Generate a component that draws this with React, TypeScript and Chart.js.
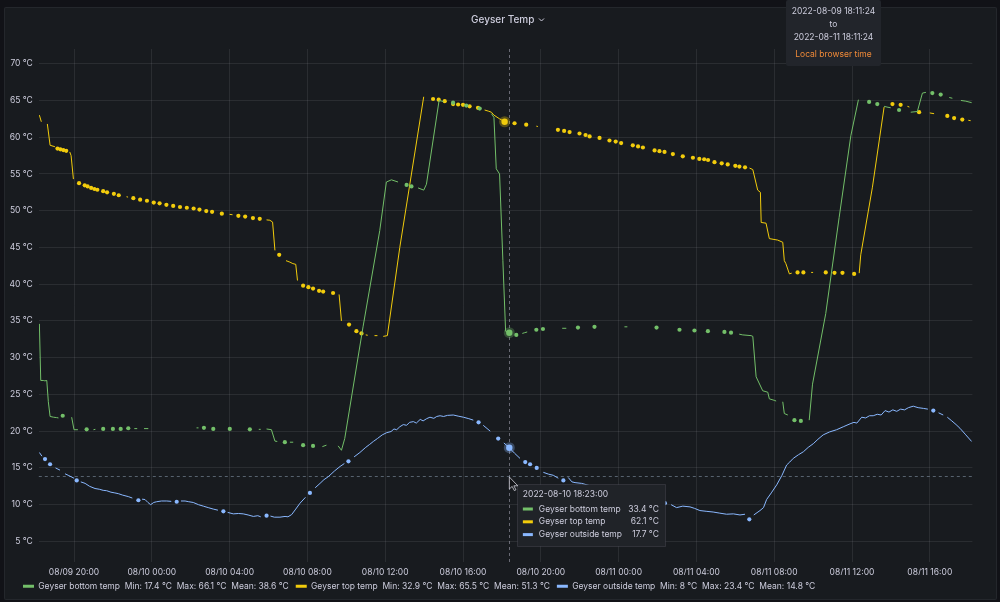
import React, { useEffect, useRef } from "react";
import { Chart, registerables } from "chart.js";

Chart.register(...registerables);

const N = null;

// time axis: hours since 2022-08-09 00:00 (range 18:11:24 -> 2022-08-11 18:11:24)
const rangeStartHour = 18.19;
const rangeEndHour = 66.19;
const xTickHours = [20, 24, 28, 32, 36, 40, 44, 48, 52, 56, 60, 64];
const yTickValues = [5, 10, 15, 20, 25, 30, 35, 40, 45, 50, 55, 60, 65, 70];
const yMin = 2.2;
const yMax = 72;

const seriesNames = ["Geyser bottom temp", "Geyser top temp", "Geyser outside temp"];
const seriesColors = ["#73BF69", "#F2CC0C", "#8AB8FF"];
const statMin = ["17.4", "32.9", "8"];
const statMax = ["66.1", "65.5", "23.4"];
const statMean = ["38.6", "51.3", "14.8"];

const hoverHour = 42.383; // 2022-08-10 18:23:00
const hoverTitle = "2022-08-10 18:23:00";
const hoverValues = ["33.4 °C", "62.1 °C", "17.7 °C"];
const cursorValue = 13.9;

type P = [number, number | null];

const bottomTemp: P[] = [
  [18.22, 34.6], [18.29, 26.9], [18.42, 26.9], [18.5, 26.85], [18.6, 26.9], [18.68, 24.0], [18.77, 22.0],
  [18.95, 21.9], [19.1, 21.85], [19.2, 21.8], [19.3, N], [19.42, 22.1], [19.6, N],
  [19.88, 21.9], [20.0, 20.2], [20.2, 20.2], [20.35, N], [20.65, 20.25], [20.8, N], [21.0, 20.2], [21.1, 20.25],
  [21.25, N], [21.5, 20.3], [21.6, N], [22.0, 20.3], [22.1, N], [22.4, 20.3], [22.5, N], [22.79, 20.4], [22.9, N],
  [23.1, 20.35], [23.25, 20.35], [23.4, N], [23.6, 20.35], [23.82, 20.35], [24.0, N],
  [26.3, 20.45], [26.4, 20.45], [26.5, N], [26.68, 20.45], [26.8, N], [27.16, 20.3], [27.3, N], [28.01, 20.3],
  [28.1, N], [29.04, 20.25], [29.15, N], [29.5, 20.25], [29.6, 20.25], [29.75, N], [29.9, 20.3], [30.15, 20.2],
  [30.33, 18.65], [30.45, 18.6], [30.6, N], [30.84, 18.5], [30.95, N], [31.1, 18.5], [31.27, 18.5], [31.4, N],
  [31.78, 18.1], [31.9, N], [32.29, 18.0], [32.4, N], [32.77, 17.9], [32.98, 18.1], [33.1, N], [33.58, 18.0],
  [33.75, 17.4], [33.92, 19.0], [34.86, 34.2], [35.72, 47.3], [36.06, 53.9], [36.32, 54.2], [36.66, 53.9],
  [36.8, N], [37.1, 53.5], [37.2, N], [37.35, 53.3], [37.5, N], [37.69, 53.1], [37.98, 52.8], [38.12, 53.6],
  [38.77, 65.0], [39.0, 64.85], [39.15, N], [39.49, 64.7], [39.6, N], [40.17, 64.3], [40.3, N], [40.86, 63.9],
  [41.0, N], [41.46, 63.2], [41.59, 62.7], [41.71, 55.7], [41.88, 55.0], [42.05, 43.2], [42.19, 33.6],
  [42.38, 33.4], [42.55, N], [42.74, 33.1], [42.85, N], [43.05, 33.3], [43.17, 33.4], [43.3, 33.5], [43.45, N],
  [43.77, 33.8], [43.9, N], [44.11, 33.9], [44.25, N], [45.1, 34.0], [45.31, 34.0], [45.45, N], [45.91, 34.1],
  [46.05, N], [46.76, 34.2], [46.9, N], [48.3, 34.2], [48.45, 34.2], [48.6, N], [49.95, 34.1], [50.1, N],
  [51.13, 33.8], [51.25, N], [51.9, 33.7], [52.0, N], [52.59, 33.6], [52.7, N], [53.44, 33.5], [53.55, N],
  [53.78, 33.4], [53.9, N], [54.2, 33.2], [54.38, 33.1], [54.81, 33.0], [54.9, 32.9], [55.07, 27.4],
  [55.41, 25.5], [55.67, 25.3], [55.75, 24.4], [56.0, 24.2], [56.1, 24.1], [56.25, N], [56.44, 24.0],
  [56.52, 22.4], [56.7, 22.2], [56.85, N], [57.04, 21.5], [57.2, N], [57.37, 21.4], [57.5, N], [57.8, 21.5],
  [57.97, 26.4], [58.65, 36.0], [59.34, 49.1], [59.94, 60.2], [60.33, 65.1], [60.5, N], [60.88, 64.8],
  [61.0, N], [61.3, 64.5], [61.4, N], [61.65, 64.2], [61.8, 64.1], [61.99, 64.0], [62.15, N], [62.42, 63.7],
  [62.55, N], [63.02, 63.4], [63.36, 63.5], [63.62, 66.0], [63.8, 66.1], [63.95, N], [64.13, 66.0],
  [64.25, N], [64.56, 65.8], [64.7, N], [65.0, 65.4], [65.16, 65.3], [65.3, N], [65.6, 65.0], [65.85, 64.9],
  [66.15, 64.7],
];

const topTemp: P[] = [
  [18.22, 63.0], [18.32, 62.1], [18.45, N], [18.63, 61.8], [18.77, 58.9], [19.02, 58.7], [19.08, N],
  [19.15, 58.45], [19.23, N], [19.3, 58.35], [19.38, N], [19.45, 58.25], [19.53, N], [19.6, 58.15], [19.68, N],
  [19.78, 58.0], [19.85, 57.5], [19.97, 54.3], [20.1, N], [20.26, 53.75], [20.4, N], [20.55, 53.45], [20.62, N],
  [20.7, 53.3], [20.78, N], [20.88, 53.1], [20.95, N], [21.05, 52.95], [21.12, N], [21.2, 52.85], [21.35, N],
  [21.5, 52.65], [21.6, N], [21.7, 52.5], [21.9, N], [22.05, 52.3], [22.15, N], [22.3, 52.1], [22.5, N],
  [22.7, 51.9], [22.78, 51.85], [22.9, N], [23.05, 51.7], [23.2, N], [23.4, 51.5], [23.6, N], [23.75, 51.35],
  [23.9, N], [24.1, 51.1], [24.25, N], [24.4, 51.0], [24.55, N], [24.75, 50.8], [24.9, N], [25.1, 50.65],
  [25.25, N], [25.45, 50.5], [25.65, N], [25.8, 50.4], [25.95, N], [26.15, 50.3], [26.3, N], [26.45, 50.15],
  [26.6, N], [26.8, 49.95], [26.95, N], [27.1, 49.85], [27.25, N], [27.6, 49.6], [27.8, N], [28.0, 49.5],
  [28.15, 49.45], [28.3, N], [28.45, 49.3], [28.6, N], [28.8, 49.2], [28.95, N], [29.2, 49.0], [29.35, N],
  [29.55, 48.9], [29.7, N], [29.9, 48.75], [30.07, 48.7], [30.21, 48.45], [30.33, 44.6], [30.45, N],
  [30.55, 44.0], [30.7, N], [30.9, 43.2], [31.0, 43.1], [31.1, 43.0], [31.25, 42.8], [31.4, 42.7],
  [31.49, 40.5], [31.6, N], [31.78, 39.8], [31.9, N], [32.05, 39.6], [32.15, N], [32.29, 39.4], [32.45, N],
  [32.6, 39.1], [32.7, N], [32.81, 39.0], [33.0, N], [33.32, 38.8], [33.45, N], [33.63, 38.6], [33.75, 35.0],
  [33.85, N], [34.14, 34.5], [34.3, N], [34.52, 33.6], [34.65, N], [34.78, 33.3], [34.9, N], [35.0, 33.1],
  [35.1, 33.05], [35.25, N], [35.45, 33.0], [35.6, 33.0], [35.75, N], [35.9, 32.9], [36.11, 33.0],
  [36.75, 45.0], [37.98, 65.5], [38.2, N], [38.46, 65.2], [38.6, N], [38.75, 65.1], [38.85, N], [39.06, 64.9],
  [39.2, N], [39.49, 64.5], [39.6, N], [39.75, 64.45], [39.85, N], [40.0, 64.4], [40.15, N], [40.34, 64.2],
  [40.5, N], [40.77, 64.0], [40.9, N], [41.11, 63.7], [41.3, 63.55], [41.46, 63.4], [41.59, 63.0],
  [41.88, 62.5], [42.14, 62.1], [42.3, N], [42.65, 61.9], [42.8, N], [43.25, 61.7], [43.4, N], [43.77, 61.5],
  [43.85, 61.45], [44.0, N], [44.88, 61.0], [45.0, N], [45.2, 60.85], [45.3, N], [45.48, 60.7], [45.6, N],
  [45.99, 60.5], [46.1, N], [46.3, 60.3], [46.4, N], [46.51, 60.1], [46.65, N], [47.02, 59.9], [47.2, N],
  [47.53, 59.55], [47.65, N], [47.85, 59.4], [47.95, N], [48.13, 59.2], [48.3, N], [48.73, 58.9], [48.85, N],
  [49.0, 58.75], [49.1, N], [49.25, 58.6], [49.4, N], [49.85, 58.2], [49.95, N], [50.1, 58.1], [50.2, N],
  [50.36, 58.0], [50.5, N], [50.79, 57.7], [50.9, N], [51.3, 57.4], [51.4, N], [51.82, 57.2], [51.95, N],
  [52.15, 57.05], [52.25, N], [52.4, 57.0], [52.5, N], [52.6, 56.9], [52.75, N], [52.93, 56.6], [53.1, N],
  [53.3, 56.45], [53.45, N], [53.61, 56.3], [53.75, N], [54.0, 56.1], [54.1, N], [54.21, 56.0], [54.35, N],
  [54.5, 55.9], [54.6, N], [54.73, 55.8], [54.9, 55.6], [55.15, 52.8], [55.29, 52.5], [55.33, 48.4],
  [55.58, 48.3], [55.75, 46.2], [56.18, 46.0], [56.44, 45.7], [56.52, 43.2], [56.6, 42.8], [56.78, 41.4],
  [56.9, 41.5], [57.0, N], [57.2, 41.6], [57.3, N], [57.5, 41.6], [57.7, N], [57.9, 41.6], [58.0, 41.6],
  [58.2, N], [58.65, 41.6], [58.8, N], [59.1, 41.55], [59.3, N], [59.51, 41.55], [59.65, N], [60.11, 41.4],
  [60.25, N], [60.37, 41.5], [60.45, 44.0], [61.05, 53.2], [61.65, 64.1], [61.8, N], [62.08, 64.5],
  [62.2, N], [62.5, 64.4], [62.6, N], [62.85, 64.2], [62.95, 64.1], [63.1, N], [63.45, 63.4], [63.6, N],
  [64.0, 63.3], [64.22, 63.2], [64.35, N], [64.9, 62.9], [65.0, N], [65.25, 62.6], [65.4, N], [65.67, 62.4],
  [65.8, N], [65.98, 62.3], [66.1, 62.25],
];

const outsideTemp: P[] = [
  [18.22, 17.1], [18.35, 16.6], [18.43, N], [18.51, 16.2], [18.64, N], [18.77, 15.5], [18.9, N], [19.05, 15.0],
  [19.28, 14.7], [19.41, N], [19.54, 14.2], [19.7, 14.0], [19.85, 13.8], [20.0, 13.6], [20.06, N], [20.14, 13.3],
  [20.22, N], [20.35, 13.1], [20.57, 12.9], [20.8, 12.5], [21.08, 12.2], [21.3, 12.1], [21.5, 11.95],
  [21.68, 11.9], [21.9, 11.7], [22.1, 11.6], [22.28, 11.5], [22.5, 11.3], [22.79, 11.1], [23.0, 10.9],
  [23.2, N], [23.31, 10.6], [23.42, N], [23.5, 10.75], [23.65, 10.7], [23.8, 10.3], [23.94, 10.0],
  [24.1, 10.3], [24.25, 10.4], [24.5, 10.5], [24.77, 10.5], [25.0, 10.45], [25.15, N], [25.28, 10.4],
  [25.4, N], [25.5, 10.5], [25.71, 10.5], [25.9, 10.4], [26.13, 10.3], [26.4, 10.0], [26.65, 9.8],
  [26.9, 9.6], [27.16, 9.4], [27.4, 9.25], [27.55, N], [27.68, 9.1], [27.8, N], [27.9, 8.95], [28.19, 8.75],
  [28.45, 8.8], [28.7, 8.75], [28.95, 8.6], [29.22, 8.4], [29.45, 8.5], [29.6, 8.35], [29.78, N], [29.9, 8.5],
  [30.02, N], [30.1, 8.45], [30.3, 8.3], [30.59, 8.3], [30.85, 8.4], [31.0, 8.35], [31.19, 8.65],
  [31.4, 9.4], [31.62, 10.2], [31.9, 11.0], [32.02, N], [32.13, 11.6], [32.25, N], [32.4, 12.3],
  [32.65, 12.9], [32.85, 13.4], [33.07, 13.8], [33.4, 14.6], [33.68, 15.2], [33.9, 15.6], [34.0, N],
  [34.11, 15.9], [34.22, N], [34.4, 16.5], [34.7, 17.1], [35.0, 17.8], [35.2, 18.2], [35.39, 18.6],
  [35.6, 19.0], [35.85, 19.5], [36.08, 19.8], [36.3, 19.95], [36.45, 20.3], [36.59, 20.2], [36.75, 20.6],
  [36.93, 20.9], [37.1, 20.8], [37.25, 21.2], [37.45, 21.3], [37.6, 21.1], [37.8, 21.6], [37.95, 21.4],
  [38.13, 21.7], [38.3, 21.9], [38.5, 21.75], [38.65, 22.0], [38.82, 22.1], [39.0, 22.0], [39.2, 22.15],
  [39.5, 22.2], [39.75, 22.05], [40.02, 21.9], [40.3, 21.7], [40.53, 21.5], [40.65, N], [40.8, 21.2],
  [40.92, N], [41.04, 20.8], [41.4, 20.0], [41.7, N], [41.81, 19.0], [41.92, N], [42.1, 18.4],
  [42.38, 17.75], [42.65, 17.0], [42.93, 16.3], [43.05, N], [43.2, 15.8], [43.32, N], [43.45, 15.5],
  [43.6, N], [43.79, 15.0], [43.95, N], [44.13, 14.4], [44.4, 14.15], [44.64, 14.0], [44.9, 13.6],
  [45.03, N], [45.16, 13.3], [45.28, N], [45.41, 13.7], [45.6, 13.1], [45.76, 13.0], [46.1, 12.9],
  [46.5, 12.6], [47.05, 12.3], [47.6, 11.9], [48.08, 11.6], [48.6, 11.2], [49.1, 10.9], [49.6, 10.6],
  [50.0, 10.4], [50.2, N], [50.38, 10.2], [50.5, N], [50.7, 10.0], [50.98, 9.6], [51.3, 9.8], [51.67, 9.7],
  [51.9, 9.5], [52.18, 9.2], [52.5, 9.1], [52.86, 9.0], [53.2, 8.85], [53.55, 8.7], [53.9, 8.75],
  [54.24, 8.6], [54.5, 8.7], [54.6, N], [54.72, 8.0], [54.84, N], [54.95, 8.6], [55.27, 9.2], [55.45, 9.6],
  [55.61, 10.7], [55.85, 11.6], [56.13, 12.7], [56.4, 14.0], [56.64, 15.4], [56.8, 15.8], [56.98, 16.3],
  [57.25, 16.8], [57.5, 17.2], [57.75, 17.8], [58.01, 18.3], [58.25, 18.9], [58.52, 19.5], [58.85, 19.9],
  [59.21, 20.2], [59.55, 20.6], [59.9, 21.0], [60.1, 21.2], [60.25, 21.1], [60.5, 21.9], [60.7, 21.8],
  [60.9, 22.1], [61.09, 22.1], [61.3, 22.3], [61.5, 22.2], [61.7, 22.8], [61.9, 22.6], [62.1, 22.9],
  [62.3, 22.7], [62.5, 23.0], [62.7, 22.9], [62.9, 23.2], [63.15, 23.4], [63.4, 23.2], [63.67, 23.1],
  [63.9, 23.0], [64.05, N], [64.18, 22.8], [64.3, N], [64.45, 22.5], [64.69, 22.2], [64.8, N], [64.9, 21.9],
  [65.13, 21.4], [65.35, 20.9], [65.55, 20.4], [65.85, 19.5], [66.15, 18.6],
];

const seriesData = [bottomTemp, topTemp, outsideTemp];

const FONT = "Inter, 'Noto Sans', sans-serif";
const TEXT = "rgb(204,204,220)";
const GRID = "rgba(204,204,220,0.1)";

function pad2(n: number) {
  return n < 10 ? "0" + n : "" + n;
}
function xLabel(h: number) {
  const day = 9 + Math.floor(h / 24);
  const hr = Math.round(h % 24);
  return `08/${pad2(day)} ${pad2(hr)}:00`;
}

function hexA(hex: string, a: number) {
  const r = parseInt(hex.slice(1, 3), 16);
  const g = parseInt(hex.slice(3, 5), 16);
  const b = parseInt(hex.slice(5, 7), 16);
  return `rgba(${r},${g},${b},${a})`;
}

const overlayPlugin = {
  id: "grafanaOverlay",
  afterLayout(chart: any) {
    // legend starts further right than the y-axis box
    if (chart.legend) {
      chart.legend.left += 12;
      chart.legend.right += 12;
    }
  },
  beforeDatasetsDraw(chart: any) {
    const { ctx, chartArea: a, scales } = chart;
    const hx = Math.round(scales.x.getPixelForValue(hoverHour)) + 0.5;
    const hy = Math.round(scales.y.getPixelForValue(cursorValue)) + 0.5;
    ctx.save();
    ctx.strokeStyle = "rgba(204,204,220,0.45)";
    ctx.lineWidth = 1;
    ctx.setLineDash([3, 3]);
    ctx.beginPath();
    ctx.moveTo(hx, a.top);
    ctx.lineTo(hx, a.bottom);
    ctx.stroke();
    ctx.strokeStyle = "rgba(150,170,190,0.5)";
    ctx.beginPath();
    ctx.moveTo(a.left, hy);
    ctx.lineTo(a.right, hy);
    ctx.stroke();
    ctx.restore();
  },
  afterDraw(chart: any) {
    const { ctx, scales } = chart;
    const xs = scales.x;
    const ys = scales.y;
    const hx = xs.getPixelForValue(hoverHour);
    const hy = ys.getPixelForValue(cursorValue);
    ctx.save();
    // hovered points
    chart.data.datasets.forEach((ds: any, i: number) => {
      let best: any = null;
      let bd = Infinity;
      ds.data.forEach((p: any) => {
        if (p.y != null) {
          const d = Math.abs(p.x - hoverHour);
          if (d < bd) {
            bd = d;
            best = p;
          }
        }
      });
      if (!best) return;
      const px = xs.getPixelForValue(best.x);
      const py = ys.getPixelForValue(best.y);
      ctx.fillStyle = hexA(seriesColors[i], 0.3);
      ctx.beginPath();
      ctx.arc(px, py, 5.5, 0, Math.PI * 2);
      ctx.fill();
      ctx.fillStyle = seriesColors[i];
      ctx.beginPath();
      ctx.arc(px, py, 3.2, 0, Math.PI * 2);
      ctx.fill();
    });

    // tooltip
    const bx = hx + 7.5;
    const by = hy + 7.5;
    const bw = 148;
    const bh = 62;
    ctx.fillStyle = "#202328";
    ctx.strokeStyle = "rgba(204,204,220,0.12)";
    ctx.lineWidth = 1;
    ctx.beginPath();
    ctx.rect(Math.round(bx) + 0.5, Math.round(by) + 0.5, bw, bh);
    ctx.fill();
    ctx.stroke();
    ctx.textBaseline = "middle";
    ctx.font = `8.5px ${FONT}`;
    ctx.fillStyle = TEXT;
    ctx.textAlign = "left";
    ctx.fillText(hoverTitle, bx + 6, by + 11);
    seriesNames.forEach((name, i) => {
      const ry = by + 25.5 + i * 12.8;
      ctx.fillStyle = seriesColors[i];
      ctx.fillRect(bx + 6, ry - 1.5, 10, 3);
      ctx.fillStyle = TEXT;
      ctx.textAlign = "left";
      ctx.fillText(name, bx + 22, ry);
      ctx.textAlign = "right";
      ctx.fillText(hoverValues[i], bx + bw - 6, ry);
    });

    // mouse pointer
    const cx = hx;
    const cy = hy + 1;
    ctx.beginPath();
    ctx.moveTo(cx, cy);
    ctx.lineTo(cx, cy + 12);
    ctx.lineTo(cx + 2.8, cy + 9.4);
    ctx.lineTo(cx + 5, cy + 13.6);
    ctx.lineTo(cx + 6.6, cy + 12.8);
    ctx.lineTo(cx + 4.5, cy + 8.8);
    ctx.lineTo(cx + 8.4, cy + 8.8);
    ctx.closePath();
    ctx.fillStyle = "#141518";
    ctx.fill();
    ctx.strokeStyle = "rgba(220,220,230,0.85)";
    ctx.lineWidth = 0.9;
    ctx.stroke();
    ctx.restore();
  },
};

export default function App() {
  const canvasRef = useRef<HTMLCanvasElement | null>(null);

  useEffect(() => {
    const canvas = canvasRef.current;
    if (!canvas) return;
    const isolatedRadius = (c: any) => {
      const d = c.dataset.data;
      const i = c.dataIndex;
      if (!d[i] || d[i].y == null) return 0;
      const prev = i > 0 ? d[i - 1].y : null;
      const next = i < d.length - 1 ? d[i + 1].y : null;
      return prev == null && next == null ? 2.1 : 0;
    };
    const chart = new Chart(canvas, {
      type: "line",
      data: {
        datasets: seriesNames.map((name, i) => ({
          label: name,
          data: seriesData[i].map(([x, y]) => ({ x, y })),
          borderColor: seriesColors[i],
          backgroundColor: seriesColors[i],
          borderWidth: 1,
          pointRadius: isolatedRadius,
          pointHoverRadius: 0,
          pointBorderWidth: 0,
          spanGaps: false,
          tension: 0,
          fill: false,
        })),
      },
      options: {
        animation: false,
        responsive: false,
        maintainAspectRatio: false,
        devicePixelRatio: 1,
        events: [],
        layout: { padding: { left: 4, right: 27.6, top: 49, bottom: 1.5 } },
        plugins: {
          tooltip: { enabled: false },
          title: { display: false },
          legend: {
            position: "bottom",
            align: "start",
            labels: {
              boxWidth: 11,
              boxHeight: 3,
              padding: 7,
              color: TEXT,
              font: { family: FONT, size: 8.5 },
              generateLabels: () =>
                seriesNames.map((n, i) => ({
                  text: `${n}  Min: ${statMin[i]} °C  Max: ${statMax[i]} °C  Mean: ${statMean[i]} °C`,
                  fillStyle: seriesColors[i],
                  strokeStyle: seriesColors[i],
                  lineWidth: 0,
                  hidden: false,
                  datasetIndex: i,
                  fontColor: TEXT,
                })),
            },
          },
        },
        scales: {
          x: {
            type: "linear",
            min: rangeStartHour,
            max: rangeEndHour,
            grid: { color: GRID, drawTicks: false },
            border: { display: false },
            ticks: {
              color: TEXT,
              font: { family: FONT, size: 8.5 },
              padding: 5,
              maxRotation: 0,
              autoSkip: false,
              callback: (v: any) => xLabel(Number(v)),
            },
            afterBuildTicks: (axis: any) => {
              axis.ticks = xTickHours.map((v) => ({ value: v }));
            },
            afterFit: (axis: any) => {
              axis.height = 13;
            },
          },
          y: {
            type: "linear",
            min: yMin,
            max: yMax,
            grid: { color: GRID, drawTicks: false },
            border: { display: false },
            ticks: {
              color: TEXT,
              font: { family: FONT, size: 8.5 },
              padding: 6,
              callback: (v: any) => `${v} °C`,
            },
            afterBuildTicks: (axis: any) => {
              axis.ticks = yTickValues.map((v) => ({ value: v }));
            },
            afterFit: (axis: any) => {
              axis.width = 34.8;
            },
          },
        },
      },
      plugins: [overlayPlugin],
    } as any);
    return () => chart.destroy();
  }, []);

  return (
    <div
      style={{
        position: "fixed",
        left: 0,
        top: 0,
        width: 1000,
        height: 602,
        background: "#111217",
        overflow: "hidden",
        fontFamily: FONT,
      }}
    >
      <div
        style={{
          position: "absolute",
          left: 4,
          top: 7,
          width: 993,
          height: 593,
          background: "#181b1f",
          border: "1px solid rgba(204,204,220,0.07)",
          borderRadius: 2,
          boxSizing: "border-box",
        }}
      />
      <canvas
        ref={canvasRef}
        width={1000}
        height={602}
        style={{ position: "absolute", left: 0, top: 0, width: 1000, height: 602 }}
      />
      <div
        style={{
          position: "absolute",
          left: 471,
          top: 12,
          height: 14,
          lineHeight: "14px",
          fontSize: 10,
          fontWeight: 500,
          color: TEXT,
          whiteSpace: "nowrap",
        }}
      >
        Geyser Temp
        <svg width="7" height="6" viewBox="0 0 7 6" style={{ marginLeft: 4, verticalAlign: "middle" }}>
          <path d="M1 1.5 L3.5 4 L6 1.5" stroke={TEXT} strokeWidth="1" fill="none" />
        </svg>
      </div>
      <div
        style={{
          position: "absolute",
          left: 786,
          top: 0,
          width: 95,
          height: 66,
          background: "#22252b",
          borderRadius: 2,
          fontSize: 8.5,
          color: TEXT,
          textAlign: "center",
        }}
      >
        <div style={{ position: "absolute", left: 0, right: 0, top: 5, lineHeight: "12px" }}>2022-08-09 18:11:24</div>
        <div style={{ position: "absolute", left: 0, right: 0, top: 18, lineHeight: "12px" }}>to</div>
        <div style={{ position: "absolute", left: 0, right: 0, top: 31, lineHeight: "12px" }}>2022-08-11 18:11:24</div>
        <div style={{ position: "absolute", left: 0, right: 0, top: 48, lineHeight: "12px", color: "#f08a38" }}>
          Local browser time
        </div>
      </div>
    </div>
  );
}
